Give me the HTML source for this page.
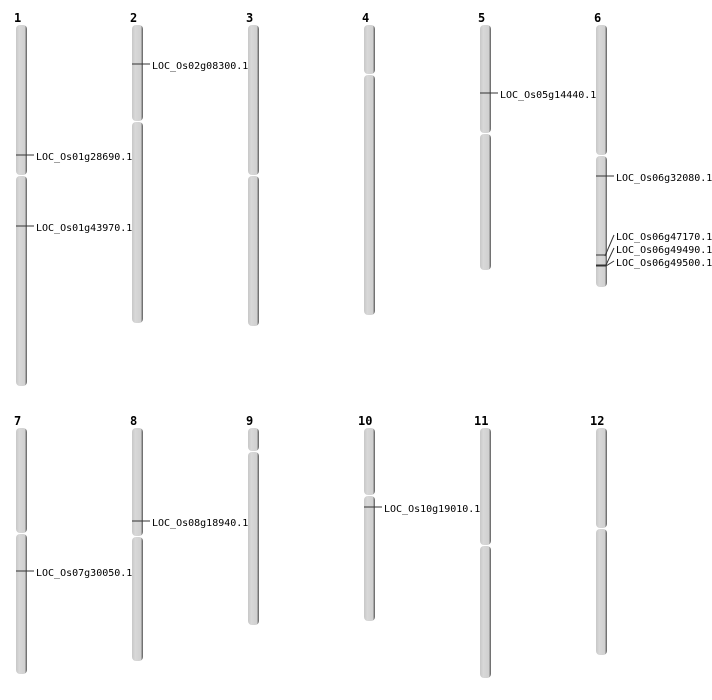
<!DOCTYPE html>
<html><head><meta charset="utf-8"><style>
html,body{margin:0;padding:0;background:#fff;}
svg{display:block;}
text{font-family:"DejaVu Sans Mono","Liberation Mono",monospace;font-size:10px;fill:#000;}
.n{font-family:"DejaVu Sans Mono","Liberation Mono",monospace;font-weight:bold;font-size:12px;}
</style></head><body>
<svg width="712" height="700" viewBox="0 0 712 700" xmlns="http://www.w3.org/2000/svg">
<defs>
<linearGradient id="g" x1="0" x2="1" y1="0" y2="0">
<stop offset="0" stop-color="#c8c8c8"/>
<stop offset="0.3" stop-color="#d8d8d8"/>
<stop offset="0.8" stop-color="#d0d0d0"/>
<stop offset="0.88" stop-color="#9a9a9a"/>
<stop offset="1" stop-color="#5a5a5a"/>
</linearGradient>
</defs>
<g fill="url(#g)">
<rect x="16" y="25" width="11" height="150" rx="4"/><rect x="16" y="176" width="11" height="210" rx="4"/>
<rect x="132" y="25" width="11" height="96" rx="4"/><rect x="132" y="122" width="11" height="201" rx="4"/>
<rect x="248" y="25" width="11" height="150" rx="4"/><rect x="248" y="176" width="11" height="150" rx="4"/>
<rect x="364" y="25" width="11" height="49" rx="4"/><rect x="364" y="75" width="11" height="240" rx="4"/>
<rect x="480" y="25" width="11" height="108" rx="4"/><rect x="480" y="134" width="11" height="136" rx="4"/>
<rect x="596" y="25" width="11" height="130" rx="4"/><rect x="596" y="156" width="11" height="131" rx="4"/>
<rect x="16" y="428" width="11" height="105" rx="4"/><rect x="16" y="534" width="11" height="140" rx="4"/>
<rect x="132" y="428" width="11" height="108" rx="4"/><rect x="132" y="537" width="11" height="124" rx="4"/>
<rect x="248" y="428" width="11" height="23" rx="4"/><rect x="248" y="452" width="11" height="173" rx="4"/>
<rect x="364" y="428" width="11" height="67" rx="4"/><rect x="364" y="496" width="11" height="125" rx="4"/>
<rect x="480" y="428" width="11" height="117" rx="4"/><rect x="480" y="546" width="11" height="132" rx="4"/>
<rect x="596" y="428" width="11" height="100" rx="4"/><rect x="596" y="529" width="11" height="126" rx="4"/>
</g>
<g class="n">
<text class="n" x="14" y="22">1</text><text class="n" x="130" y="22">2</text><text class="n" x="246" y="22">3</text>
<text class="n" x="362" y="22">4</text><text class="n" x="478" y="22">5</text><text class="n" x="594" y="22">6</text>
<text class="n" x="14" y="425">7</text><text class="n" x="130" y="425">8</text><text class="n" x="246" y="425">9</text>
<text class="n" x="358" y="425">10</text><text class="n" x="474" y="425">11</text><text class="n" x="590" y="425">12</text>
</g>
<g stroke="#333" stroke-width="1">
<line x1="16" y1="155" x2="34" y2="155"/>
<line x1="16" y1="226" x2="34" y2="226"/>
<line x1="132" y1="64" x2="150" y2="64"/>
<line x1="480" y1="93" x2="498" y2="93"/>
<line x1="596" y1="176" x2="614" y2="176"/>
<line x1="596" y1="255" x2="606" y2="255"/>
<line x1="596" y1="265.5" x2="606" y2="265.5" stroke-width="2"/>
<line x1="605" y1="256" x2="614" y2="235"/>
<line x1="606" y1="265" x2="614" y2="248"/>
<line x1="606" y1="266" x2="614" y2="261"/>
<line x1="16" y1="571" x2="34" y2="571"/>
<line x1="132" y1="521" x2="150" y2="521"/>
<line x1="364" y1="507" x2="382" y2="507"/>
</g>
<text x="36" y="160">LOC_Os01g28690.1</text>
<text x="36" y="231">LOC_Os01g43970.1</text>
<text x="152" y="69">LOC_Os02g08300.1</text>
<text x="500" y="98">LOC_Os05g14440.1</text>
<text x="616" y="181">LOC_Os06g32080.1</text>
<text x="616" y="240">LOC_Os06g47170.1</text>
<text x="616" y="253">LOC_Os06g49490.1</text>
<text x="616" y="266">LOC_Os06g49500.1</text>
<text x="36" y="576">LOC_Os07g30050.1</text>
<text x="152" y="526">LOC_Os08g18940.1</text>
<text x="384" y="512">LOC_Os10g19010.1</text>
</svg>
</body></html>
